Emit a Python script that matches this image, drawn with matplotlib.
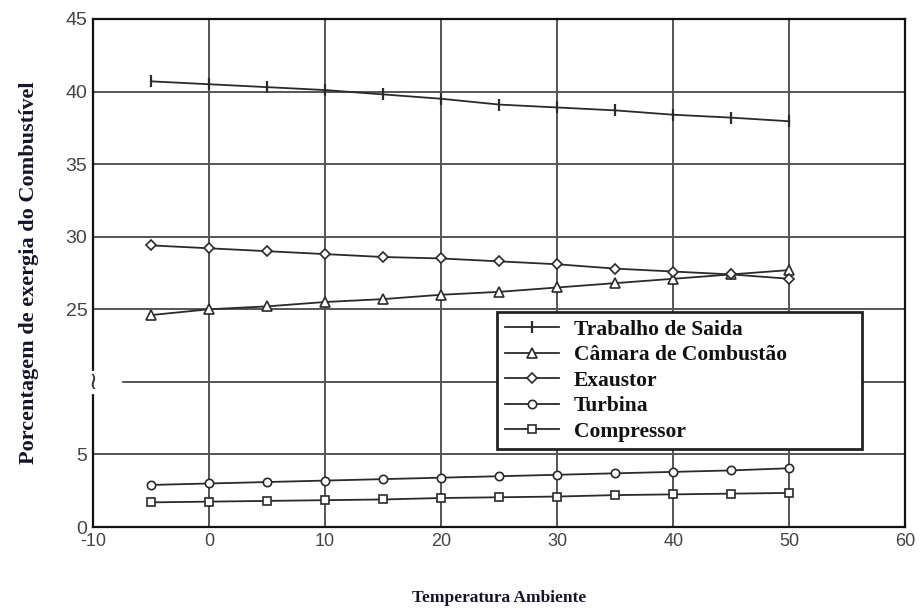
import numpy as np
import matplotlib
matplotlib.use("Agg")
import matplotlib.pyplot as plt
from matplotlib.patches import Rectangle

plt.rcParams["axes.unicode_minus"] = False

# data
temp = [-5, 0, 5, 10, 15, 20, 25, 30, 35, 40, 45, 50]
trabalho = [40.7, 40.5, 40.3, 40.1, 39.8, 39.5, 39.1, 38.9, 38.7, 38.4, 38.2, 37.95]
camara = [24.6, 25.0, 25.2, 25.5, 25.7, 26.0, 26.2, 26.5, 26.8, 27.1, 27.4, 27.7]
exaustor = [29.4, 29.2, 29.0, 28.8, 28.6, 28.5, 28.3, 28.1, 27.8, 27.6, 27.4, 27.1]
turbina = [2.9, 3.0, 3.1, 3.2, 3.3, 3.4, 3.5, 3.6, 3.7, 3.8, 3.9, 4.05]
compressor = [1.7, 1.75, 1.8, 1.85, 1.9, 2.0, 2.05, 2.1, 2.2, 2.25, 2.3, 2.35]

series_names = ["Trabalho de Saida", "Câmara de Combustão", "Exaustor", "Turbina", "Compressor"]
xticks = [-10, 0, 10, 20, 30, 40, 50, 60]
yticks = [0, 5, 20, 25, 30, 35, 40, 45]
ytick_labels = ["0", "5", "", "25", "30", "35", "40", "45"]


# broken y axis: 5..20 squeezed into one grid step
def fwd(v):
    v = np.asarray(v, dtype=float)
    return np.where(v <= 5, v, np.where(v >= 20, v - 10, 5 + (v - 5) / 3.0))


def inv(p):
    p = np.asarray(p, dtype=float)
    return np.where(p <= 5, p, np.where(p >= 10, p + 10, 5 + (p - 5) * 3.0))


fig = plt.figure(figsize=(9.21, 6.10), dpi=100)
ax = fig.add_axes([0.101, 0.136, 0.882, 0.833])
ax.set_yscale("function", functions=(fwd, inv))

lc = "#2a2a2a"
kw = dict(color=lc, lw=1.3, mfc="white", mec=lc, mew=1.2)
ax.plot(temp, trabalho, marker="|", ms=9, mew=1.6, color=lc, lw=1.3, label=series_names[0])
ax.plot(temp, camara, marker="^", ms=7, label=series_names[1], **kw)
ax.plot(temp, exaustor, marker="D", ms=5.5, label=series_names[2], **kw)
ax.plot(temp, turbina, marker="o", ms=6, label=series_names[3], **kw)
ax.plot(temp, compressor, marker="s", ms=6, label=series_names[4], **kw)

ax.set_xlim(-10, 60)
ax.set_ylim(0, 45)
ax.set_xticks(xticks)
ax.set_yticks(yticks)
ax.set_yticklabels(ytick_labels)
ax.minorticks_off()
ax.grid(True, color="#555555", lw=1.4)
ax.tick_params(direction="in", length=0, labelcolor="#444444", pad=4)
ax.tick_params(axis="x", labelsize=13)
ax.tick_params(axis="y", labelsize=14)
for lab in ax.get_xticklabels() + ax.get_yticklabels():
    lab.set_family("Liberation Sans")
for s in ax.spines.values():
    s.set_color("#111111")
    s.set_linewidth(1.6)

# break marker on the left spine
yb = float(fwd(20) / fwd(45))
ax.add_patch(Rectangle((-0.01, yb - 0.022), 0.045, 0.044, transform=ax.transAxes,
                       color="white", clip_on=False, zorder=5))
ax.text(0.0, yb, "≀", transform=ax.transAxes, ha="center", va="center",
        fontsize=17, color="#333333", zorder=6, clip_on=False)

ax.set_xlabel("Temperatura Ambiente", family="Liberation Serif", fontweight="bold",
              fontsize=12.5, color="#15152a", labelpad=29)
ax.set_ylabel("Porcentagem de exergia do Combustível", family="Liberation Serif",
              fontweight="bold", fontsize=16, color="#15152a", labelpad=19)

leg = ax.legend(loc="upper left", bbox_to_anchor=(0.4975, 0.223, 0.4495, 0.2),
                mode="expand", frameon=True,
                fancybox=False, edgecolor="#222222", framealpha=1,
                prop={"family": "Liberation Serif", "weight": "bold", "size": 15.5},
                handlelength=2.5, labelspacing=0.25, borderpad=0.35,
                handletextpad=0.7, borderaxespad=0)
leg.get_frame().set_linewidth(2)
for t in leg.get_texts():
    t.set_color("#111111")

fig.savefig("out.png", dpi=100)
